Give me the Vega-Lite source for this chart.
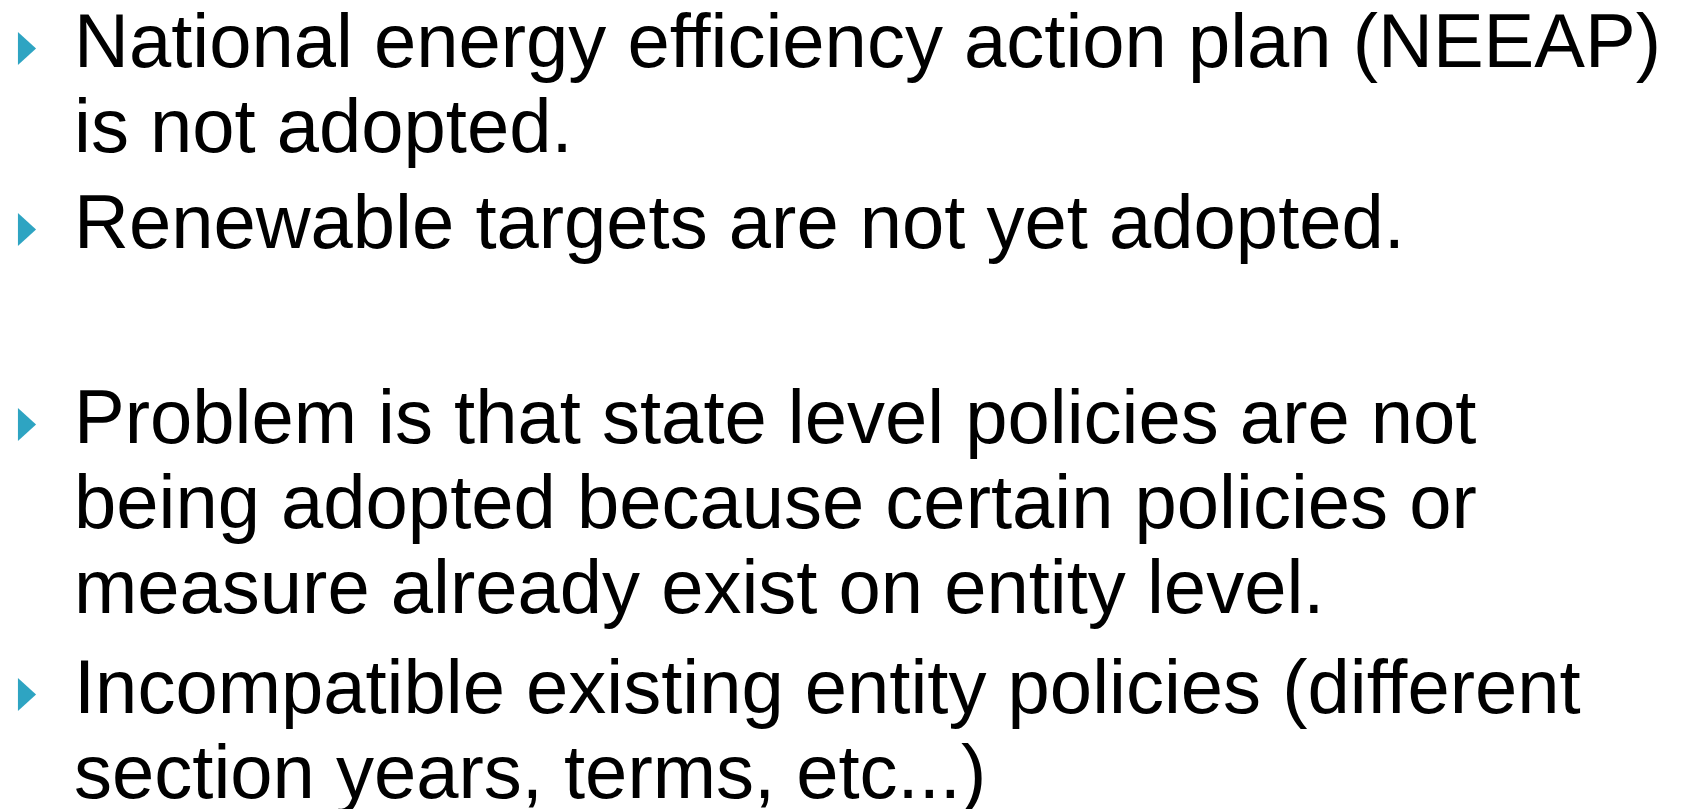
{
  "$schema": "https://vega.github.io/schema/vega-lite/v6.json",
  "width": 1694,
  "height": 809,
  "autosize": {"type": "none"},
  "padding": 0,
  "background": "white",
  "config": {"view": {"stroke": null}},
  "data": {
    "values": [
      {"line": "National energy efficiency action plan (NEEAP)", "pos": 67, "bullet": 1},
      {"line": "is not adopted.", "pos": 152, "bullet": 0},
      {"line": "Renewable targets are not yet adopted.", "pos": 248, "bullet": 1},
      {"line": "Problem is that state level policies are not", "pos": 443, "bullet": 1},
      {"line": "being adopted because certain policies or", "pos": 528, "bullet": 0},
      {"line": "measure already exist on entity level.", "pos": 613, "bullet": 0},
      {"line": "Incompatible existing entity policies (different", "pos": 713, "bullet": 1},
      {"line": "section years, terms, etc...)", "pos": 798, "bullet": 0}
    ]
  },
  "encoding": {
    "y": {"field": "pos", "type": "quantitative", "scale": {"domain": [0, 809], "reverse": true}, "axis": null}
  },
  "layer": [
    {
      "mark": {"type": "text", "align": "left", "baseline": "alphabetic", "font": "Liberation Sans", "fontSize": 76, "color": "#000000"},
      "encoding": {
        "x": {"datum": 74, "type": "quantitative", "scale": {"domain": [0, 1694]}, "axis": null},
        "text": {"field": "line"}
      }
    },
    {
      "transform": [{"filter": "datum.bullet == 1"}],
      "mark": {"type": "point", "shape": "M-0.55,-1L0.55,0L-0.55,1Z", "filled": true, "size": 1089, "color": "#2ea4c2", "opacity": 1, "yOffset": -18.5},
      "encoding": {
        "x": {"datum": 27, "type": "quantitative", "scale": {"domain": [0, 1694]}, "axis": null}
      }
    }
  ]
}
